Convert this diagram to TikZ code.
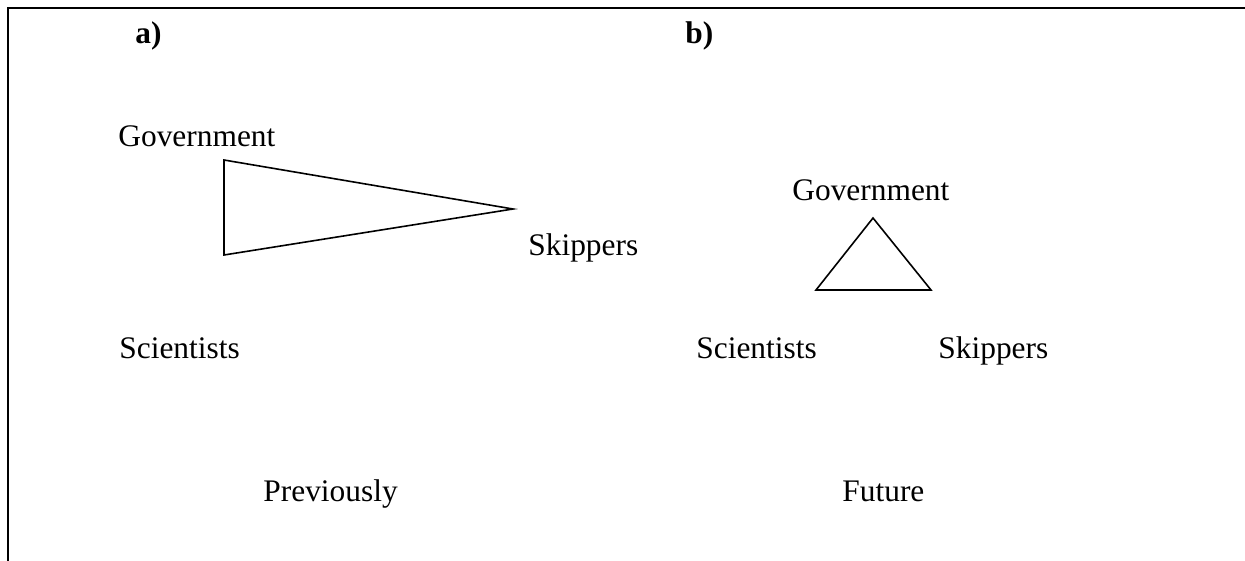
\documentclass[tikz,border=0pt]{standalone}
\usepackage{fontspec}
\setmainfont{Liberation Serif}
\usetikzlibrary{calc}

\begin{document}
\begin{tikzpicture}[x=0.5pt, y=-0.5pt, font=\fontsize{15.7}{19}\selectfont,
		lbl/.style={anchor=base west, inner sep=0pt}]
		\useasboundingbox (0,0) rectangle (1245,561);
		% frame
		\draw[line width=1.4pt] (1245,8) -- (8,8) -- (8,561);
		\node[lbl, font=\fontsize{15.7}{19}\selectfont\bfseries] (la) at (135,44) {a)};
		\node[lbl, font=\fontsize{15.7}{19}\selectfont\bfseries] (lb) at (685,44) {b)};
		% a) previously
		\coordinate (GA) at (224,160);
		\coordinate (SA) at (513,209);
		\coordinate (CA) at (224,255);
		\draw[line width=0.8pt, line join=miter] (GA) -- (SA) -- (CA) -- cycle;
		\node[lbl] (govA) at (118,147) {Government};
		\node[lbl] (skipA) at (528,255) {Skippers};
		\node[lbl] (sciA) at (119,358) {Scientists};
		\node[lbl] (prev) at (263,501) {Previously};
		% b) future
		\coordinate (GB) at (873,218);
		\coordinate (CB) at (816,290);
		\coordinate (SB) at (931,290);
		\draw[line width=0.8pt, line join=miter] (GB) -- (SB) -- (CB) -- cycle;
		\node[lbl] (govB) at (792,200) {Government};
		\node[lbl] (sciB) at (696,358) {Scientists};
		\node[lbl] (skipB) at (938,358) {Skippers};
		\node[lbl] (fut) at (842,501) {Future};
	\end{tikzpicture}
\end{document}
